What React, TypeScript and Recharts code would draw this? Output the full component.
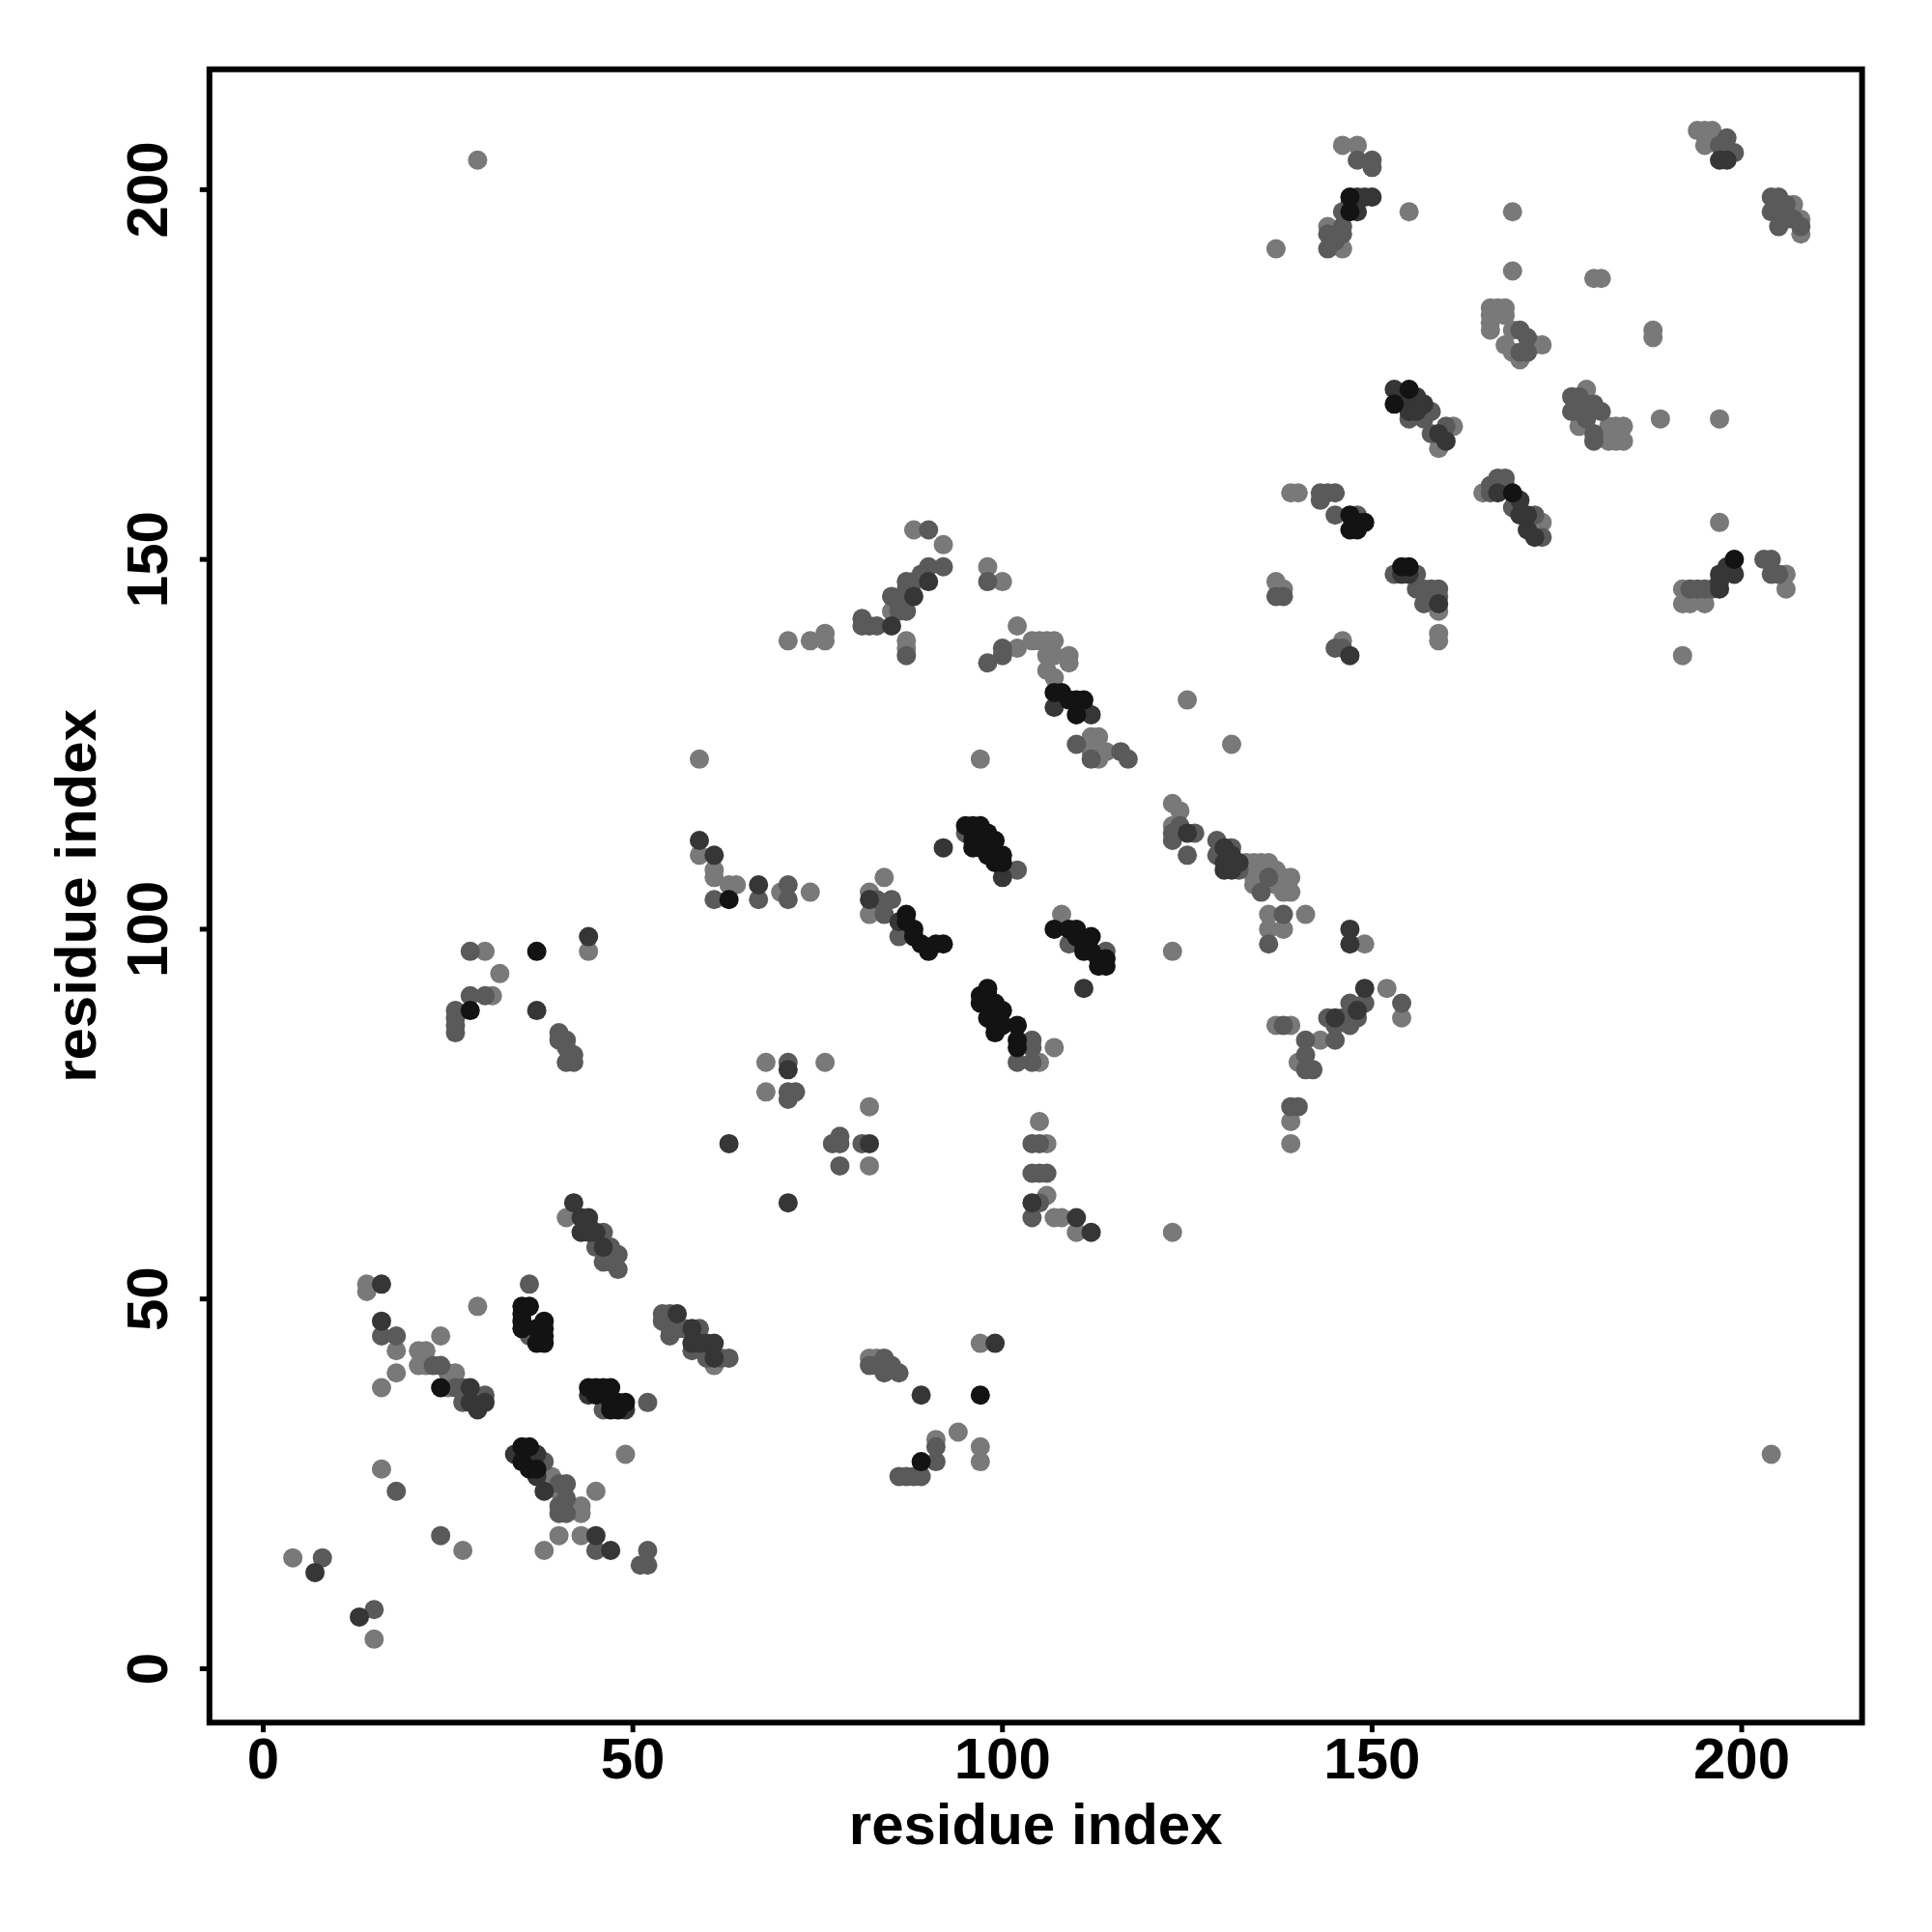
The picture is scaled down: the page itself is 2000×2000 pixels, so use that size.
import { ScatterChart, Scatter, XAxis, YAxis, ReferenceArea, Label } from 'recharts'

// contact pairs (residue i, residue j), grouped by grey level of the dot
const lightContacts: [number, number][] = [
  [4, 15], [15, 4], [16, 27], [27, 16], [38, 16], [40, 18], [43, 18], [45, 24], [49, 29], [14, 52], [14, 51],
  [18, 43], [18, 40], [16, 38], [24, 45], [29, 49], [21, 43], [22, 43], [21, 41], [22, 41], [25, 40], [26, 40],
  [25, 38], [39, 26], [40, 24], [41, 22], [43, 22], [43, 21], [41, 61], [61, 41], [55, 46], [82, 68], [106, 64],
  [107, 61], [108, 61], [110, 59], [123, 59], [97, 44], [82, 42], [83, 42], [94, 32], [91, 31], [97, 30], [97, 28],
  [204, 29], [71, 139], [59, 123], [59, 110], [61, 108], [61, 107], [63, 106], [64, 106], [30, 97], [44, 97],
  [32, 94], [31, 91], [70, 105], [74, 105], [29, 204], [146, 206], [148, 206], [137, 192], [144, 195], [146, 192],
  [139, 159], [140, 159], [137, 147], [138, 146], [88, 154], [92, 152], [98, 149], [100, 147], [85, 143], [102, 141],
  [74, 139], [76, 140], [76, 139], [87, 139], [87, 138], [102, 138], [104, 139], [105, 139], [106, 139], [107, 139],
  [106, 137], [107, 137], [109, 137], [109, 136], [106, 135], [107, 134], [112, 126], [113, 126], [112, 124],
  [114, 124], [113, 123], [125, 131], [131, 125], [97, 123], [84, 107], [82, 105], [82, 102], [108, 102], [123, 97],
  [76, 82], [82, 76], [105, 74], [106, 71], [105, 82], [107, 84], [68, 82], [68, 78], [123, 117], [124, 116],
  [123, 114], [133, 109], [134, 109], [135, 109], [136, 109], [137, 108], [134, 107], [138, 107], [139, 107],
  [134, 106], [137, 106], [138, 105], [139, 105], [136, 102], [141, 102], [136, 100], [138, 100], [139, 87],
  [137, 87], [143, 85], [140, 82], [139, 74], [139, 71], [149, 98], [152, 92], [154, 88], [155, 197], [169, 197],
  [169, 189], [180, 188], [181, 188], [194, 208], [195, 208], [196, 208], [195, 206], [207, 198], [208, 196],
  [208, 194], [166, 184], [167, 184], [168, 184], [166, 183], [166, 182], [166, 181], [168, 183], [169, 181],
  [172, 179], [173, 179], [168, 179], [169, 178], [170, 177], [188, 181], [188, 180], [159, 165],
  [161, 168], [179, 173], [182, 168], [183, 168], [184, 168], [182, 166], [183, 166], [184, 166],
  [178, 168], [189, 169], [197, 169], [165, 159], [197, 155], [173, 155], [192, 146], [192, 144], [193, 144],
  [195, 144], [206, 146], [206, 148], [159, 140], [159, 139], [159, 143], [192, 137], [146, 139],
]

const midContacts: [number, number][] = [
  [8, 15], [15, 8], [18, 24], [24, 18], [45, 16], [52, 16], [51, 14], [52, 14], [36, 52], [16, 45], [18, 45],
  [23, 41], [24, 41], [26, 38], [27, 38], [27, 36], [30, 37], [38, 28], [40, 25], [41, 25], [41, 23], [40, 21],
  [41, 21], [40, 22], [46, 59], [45, 57], [47, 57], [48, 56], [46, 55], [47, 55], [48, 54], [54, 48], [55, 48],
  [54, 47], [55, 45], [56, 46], [57, 46], [59, 46], [60, 42], [62, 42], [63, 42], [58, 43], [36, 45], [46, 35],
  [52, 36], [78, 68], [104, 67], [105, 67], [106, 67], [104, 61], [105, 63], [84, 42], [82, 41], [83, 41], [85, 41],
  [86, 40], [84, 40], [91, 30], [91, 28], [86, 26], [87, 26], [88, 26], [89, 26], [28, 97], [28, 91], [30, 91],
  [26, 89], [26, 88], [26, 87], [26, 86], [40, 86], [40, 85], [41, 85], [41, 84], [42, 83], [42, 82], [41, 82],
  [61, 104], [67, 104], [71, 106], [71, 104], [71, 82], [71, 77], [72, 78], [71, 78], [104, 71], [77, 71], [78, 72],
  [78, 71], [81, 71], [105, 71], [104, 84], [104, 85], [104, 82], [102, 82], [110, 125], [116, 124], [117, 123],
  [112, 123], [98, 136], [100, 138], [100, 137], [81, 142], [81, 141], [82, 141], [83, 141], [86, 143], [87, 143],
  [85, 145], [86, 144], [87, 146], [87, 147], [88, 147], [89, 148], [87, 137], [92, 149], [90, 149], [90, 154],
  [98, 147], [145, 138], [146, 138], [124, 114], [125, 110], [123, 113], [123, 112], [126, 113], [129, 112],
  [129, 110], [131, 111], [132, 108], [136, 107], [135, 105], [136, 98], [138, 102], [138, 87], [141, 85],
  [141, 83], [141, 81], [142, 81], [140, 76], [139, 76], [145, 87], [144, 88], [146, 88], [147, 88], [148, 88],
  [154, 90], [147, 90], [149, 90], [147, 87], [145, 85], [102, 108], [95, 113], [84, 102], [85, 104], [83, 104],
  [86, 99], [87, 100], [109, 98], [113, 96], [114, 97], [146, 197], [147, 198], [146, 195], [146, 194], [148, 204],
  [150, 204], [150, 203], [144, 194], [145, 193], [144, 192], [143, 159], [144, 159], [145, 159], [143, 158],
  [145, 156], [148, 156], [166, 160], [167, 161], [168, 161], [166, 159], [168, 160], [169, 157], [172, 156],
  [173, 153], [199, 205], [198, 207], [197, 206], [204, 199], [205, 199], [206, 198], [206, 196], [207, 196],
  [208, 195], [204, 197], [205, 195], [155, 169], [157, 169], [158, 170], [160, 168], [158, 167], [177, 172],
  [178, 172], [177, 170], [178, 170], [180, 171], [181, 170], [179, 169], [180, 167], [180, 166], [170, 181],
  [171, 180], [170, 178], [171, 178], [137, 145], [138, 145], [193, 146], [194, 146], [195, 146], [196, 146],
  [203, 150], [204, 150], [205, 148], [204, 148], [157, 144], [158, 146], [159, 146], [159, 145], [156, 146],
  [157, 146], [153, 148], [156, 148],
]

const darkContacts: [number, number][] = [
  [7, 13], [13, 7], [47, 16], [45, 18], [16, 52], [16, 47], [28, 36], [28, 38], [29, 35], [30, 36], [34, 29],
  [36, 28], [37, 29], [38, 24], [37, 26], [42, 63], [43, 61], [44, 61], [43, 59], [44, 59], [45, 59], [46, 57],
  [44, 60], [56, 48], [58, 46], [60, 44], [61, 44], [58, 44], [59, 44], [61, 42], [44, 37], [49, 35], [71, 63],
  [104, 63], [110, 61], [112, 59], [99, 44], [89, 37], [59, 112], [61, 110], [67, 106], [44, 99], [37, 89],
  [63, 71], [71, 81], [82, 71], [92, 111], [111, 92], [149, 92], [147, 100], [147, 98], [85, 141], [88, 145],
  [90, 147], [107, 130], [111, 130], [112, 129], [147, 137], [130, 111], [130, 109], [131, 110], [132, 109],
  [130, 108], [131, 108], [125, 113], [148, 89], [148, 197], [148, 199], [149, 199], [150, 199], [197, 204],
  [198, 204], [153, 173], [154, 172], [156, 172], [155, 170], [156, 170], [157, 171], [159, 167], [160, 166],
  [171, 156], [170, 156], [172, 153], [171, 154], [170, 158], [167, 159], [199, 148], [198, 149], [197, 148],
  [197, 147], [197, 146], [154, 148], [155, 148], [159, 144], [100, 107], [82, 104], [86, 101], [145, 88],
]

const blackContacts: [number, number][] = [
  [24, 38], [35, 30], [36, 30], [35, 28], [36, 27], [37, 27], [35, 49], [36, 49], [35, 48], [35, 47], [35, 46],
  [37, 46], [38, 47], [38, 46], [38, 45], [37, 44], [38, 44], [44, 38], [45, 38], [46, 38], [47, 38], [45, 37],
  [47, 36], [48, 36], [49, 36], [47, 35], [48, 35], [97, 37], [89, 28], [37, 97], [28, 89], [63, 104], [95, 114],
  [96, 114], [97, 114], [96, 113], [96, 112], [97, 112], [98, 113], [99, 112], [96, 111], [97, 111], [98, 110],
  [99, 110], [99, 109], [100, 110], [100, 109], [98, 92], [97, 91], [98, 91], [97, 90], [99, 90], [100, 89],
  [98, 88], [99, 88], [99, 87], [100, 87], [102, 87], [99, 86], [102, 85], [102, 84], [87, 102], [87, 101],
  [88, 100], [88, 99], [89, 98], [90, 97], [91, 98], [92, 98], [107, 100], [109, 100], [110, 100], [110, 99],
  [111, 98], [112, 99], [111, 97], [112, 97], [113, 96], [114, 96], [114, 95], [113, 95], [147, 156], [148, 155],
  [149, 155], [147, 154], [148, 154], [199, 150], [154, 149], [155, 149], [169, 159], [147, 199], [147, 197],
  [107, 132], [108, 132], [109, 131], [110, 131], [111, 131], [110, 129], [153, 171], [155, 173],
]

const axisTicks = [0, 50, 100, 150, 200]
const domain: [number, number] = [-7.28, 216.28]

const FONT = '"Liberation Sans", Arial, Helvetica, sans-serif'

const toPoints = (pairs: [number, number][]) => pairs.map(([x, y]) => ({ x, y }))

const dot = (fill: string) => (props: any) => <circle cx={props.cx} cy={props.cy} r={10} fill={fill} />

function XTick({ x, y, payload }: any) {
  return (
    <text x={x} y={y} dy="0.71em" textAnchor="middle" fontFamily={FONT} fontWeight={700} fontSize={60} fill="#000">
      {payload.value}
    </text>
  )
}

function YTick({ x, y, payload }: any) {
  return (
    <text x={x} y={y} transform={`rotate(-90 ${x} ${y})`} textAnchor="middle" fontFamily={FONT} fontWeight={700} fontSize={60} fill="#000">
      {payload.value}
    </text>
  )
}

function XTitle({ viewBox }: any) {
  const { x, y, width } = viewBox
  return (
    <text x={x + width / 2} y={y + 126} textAnchor="middle" fontFamily={FONT} fontWeight={700} fontSize={60} fill="#000">
      residue index
    </text>
  )
}

function YTitle({ viewBox }: any) {
  const { x, y, width, height } = viewBox
  const cx = x + width - 118
  const cy = y + height / 2
  return (
    <text x={cx} y={cy} transform={`rotate(-90 ${cx} ${cy})`} textAnchor="middle" fontFamily={FONT} fontWeight={700} fontSize={60} fill="#000">
      residue index
    </text>
  )
}

export default function App() {
  const series = [
    { name: 'light', data: toPoints(lightContacts), fill: '#797979' },
    { name: 'mid', data: toPoints(midContacts), fill: '#5a5a5a' },
    { name: 'dark', data: toPoints(darkContacts), fill: '#363636' },
    { name: 'black', data: toPoints(blackContacts), fill: '#131313' },
  ]

  return (
    <div style={{ position: 'absolute', left: 0, top: 0, width: 2000, height: 2000, background: '#fff' }}>
      <ScatterChart width={2000} height={2000} margin={{ top: 71.7, right: 72.4, bottom: 96.8, left: 66.8 }}>
        <XAxis
          type="number"
          dataKey="x"
          domain={domain}
          allowDataOverflow
          ticks={axisTicks}
          height={120}
          axisLine={false}
          tickLine={{ stroke: '#000', strokeWidth: 5 }}
          tickSize={10}
          tickMargin={5}
          tick={<XTick />}
        >
          <Label content={<XTitle />} />
        </XAxis>
        <YAxis
          type="number"
          dataKey="y"
          domain={domain}
          allowDataOverflow
          ticks={axisTicks}
          width={150}
          axisLine={false}
          tickLine={{ stroke: '#000', strokeWidth: 5 }}
          tickSize={10}
          tickMargin={33.4}
          tick={<YTick />}
        >
          <Label content={<YTitle />} />
        </YAxis>
        {series.map((s) => (
          <Scatter key={s.name} name={s.name} data={s.data} fill={s.fill} shape={dot(s.fill)} isAnimationActive={false} />
        ))}
        <ReferenceArea x1={domain[0]} x2={domain[1]} y1={domain[0]} y2={domain[1]} fill="none" fillOpacity={0} stroke="#000" strokeWidth={6} ifOverflow="visible" />
      </ScatterChart>
    </div>
  )
}
